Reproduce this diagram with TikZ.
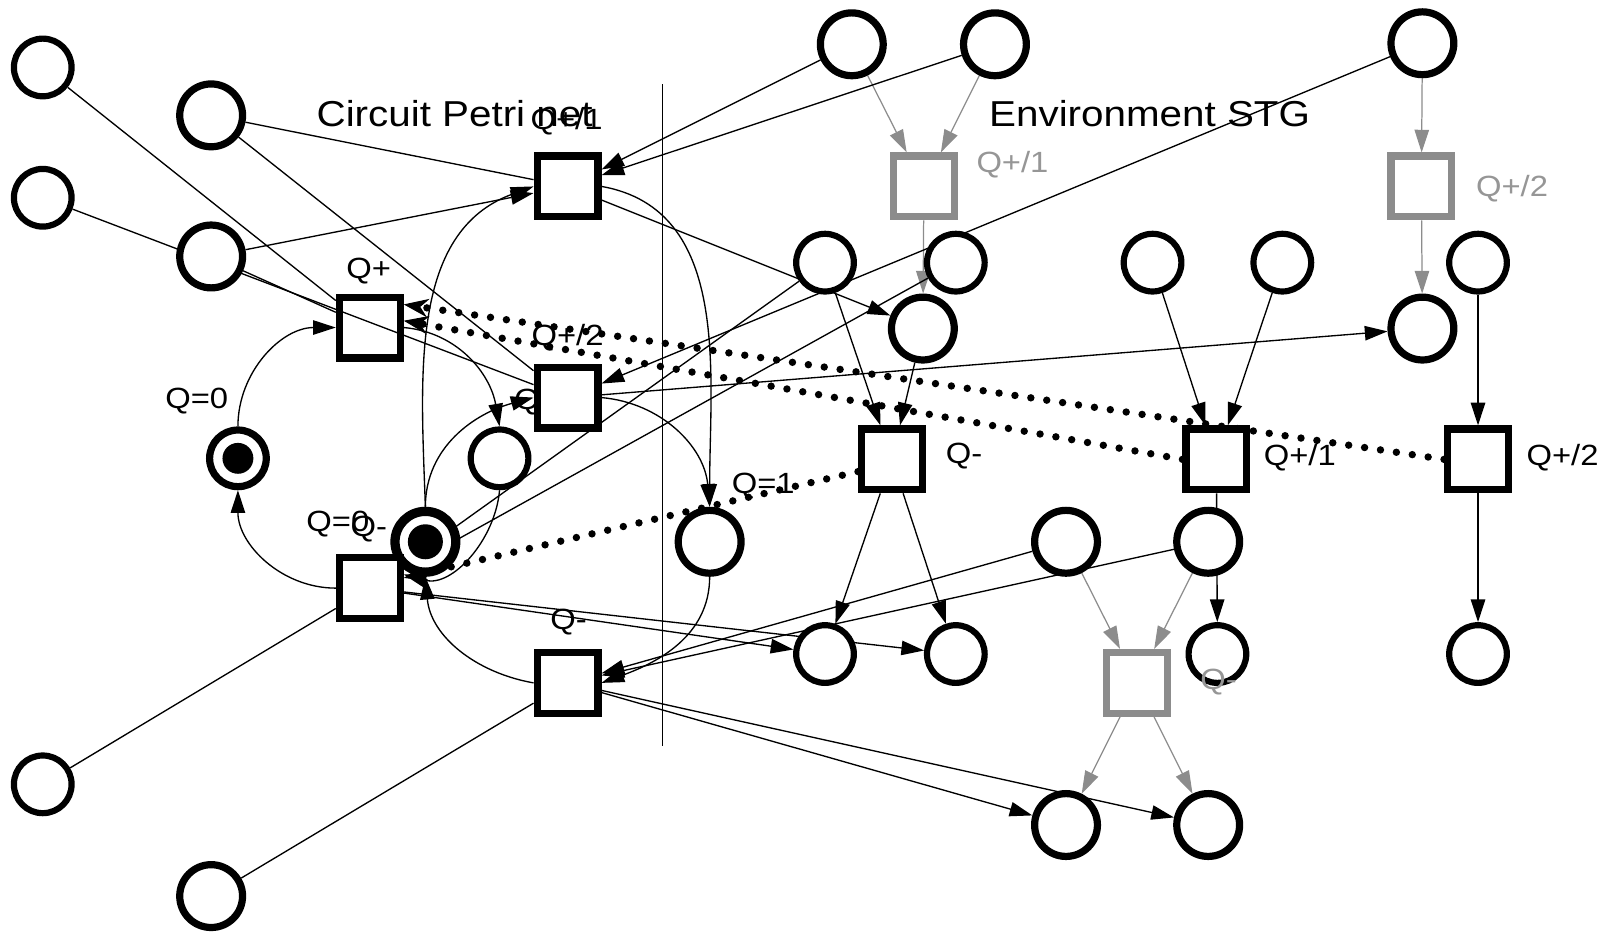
\documentclass[tikz,border=0pt]{standalone}
\usepackage{fontspec}
\setmainfont[FakeStretch=1.12]{Liberation Sans}
\usetikzlibrary{arrows.meta,backgrounds,calc}
\definecolor{gc}{RGB}{140,140,140}
\definecolor{gtext}{RGB}{150,150,150}
\begin{document}
\begin{tikzpicture}[x=0.5pt,y=0.5pt,
  ps/.style={circle,draw,fill=white,line width=3pt,minimum size=28pt,inner sep=0pt},
  pb/.style={circle,draw,fill=white,line width=3.5pt,minimum size=30.5pt,inner sep=0pt},
  tr/.style={rectangle,draw,fill=white,line width=3.5pt,minimum size=29.5pt,inner sep=0pt},
  gtr/.style={tr,draw=gc},
  lab/.style={font=\fontsize{14.2}{16}\selectfont,inner sep=0pt,anchor=base},
  glab/.style={lab,text=gtext},
  ttl/.style={font=\fontsize{17.5}{20}\selectfont,inner sep=0pt,anchor=base west},
  edge/.style={line width=0.65pt,draw=black},
  arr/.style={edge,-{Triangle[length=11pt,width=7pt]}},
  gedge/.style={line width=0.6pt,draw=gc,-{Triangle[length=11pt,width=7pt]}},
  dotarr/.style={line width=3.6pt,line cap=round,dash pattern=on 0pt off 7.8pt,-{Stealth[length=12pt,width=9pt,line width=0.5pt]}},
  sepline/.style={line width=0.7pt}
]
\useasboundingbox (0,0) rectangle (1568,-904);

% ---------- places ----------
\node[ps] (pL1) at (41.5,-65.5) {};
\node[pb] (pL2) at (205,-112) {};
\node[ps] (pL3) at (41.5,-192) {};
\node[pb] (pL4) at (205,-249) {};
\node[ps] (pL5) at (41.5,-761.5) {};
\node[pb] (pL6) at (205,-870) {};
\node[ps,line width=3.5pt,minimum size=27.5pt] (pQ0) at (231,-445) {};
\fill (pQ0) circle (7.5pt);
\node[ps] (pmid) at (485,-445) {};
\node[pb,line width=4.5pt,minimum size=29.5pt] (pQ0b) at (413,-526) {};
\fill (pQ0b) circle (8.5pt);
\node[pb] (pQ1) at (689,-526) {};

\node[pb] (e1) at (827,-43) {};
\node[pb] (e2) at (966,-43) {};
\node[pb] (e3) at (1381,-42) {};
\node[ps] (e4) at (801,-255) {};
\node[ps] (e5) at (928,-255) {};
\node[pb] (e6) at (896,-319) {};
\node[pb] (e7) at (1381,-319) {};
\node[ps] (e8) at (1119,-255) {};
\node[ps] (e9) at (1245,-255) {};
\node[ps] (e12) at (1435,-255) {};
\node[pb] (e10) at (1035,-526) {};
\node[pb] (e11) at (1173,-526) {};
\node[ps] (e13) at (801,-635) {};
\node[ps] (e14) at (928,-635) {};
\node[ps] (e15) at (1182,-635) {};
\node[ps] (e16) at (1435,-635) {};
\node[pb] (e17) at (1035,-801) {};
\node[pb] (e18) at (1173,-801) {};

% ---------- transitions ----------
\node[tr] (tQp1) at (551,-181) {};
\node[tr,fill=none] (tQp) at (359,-318) {};
\node[tr] (tQp2) at (551,-386) {};
\node[tr] (tQm) at (359,-571) {};
\node[tr] (tQm2) at (551,-663) {};
\node[tr] (tEm) at (866,-446) {};
\node[tr] (tE1) at (1181,-446) {};
\node[tr] (tE2) at (1435,-446) {};
\node[gtr] (gQp1) at (897,-181) {};
\node[gtr] (gQp2) at (1380,-181) {};
\node[gtr] (gQm) at (1104,-663) {};

% ---------- texts ----------
\node[ttl] (tcirc) at (307,-123) {Circuit Petri net};
\node[ttl] (tenv) at (960,-123) {Environment STG};
\node[lab] (l1) at (550,-126) {Q+/1};
\node[lab] (l2) at (358,-270) {Q+};
\node[lab] (l3) at (551,-335) {Q+/2};
\node[lab] (l4) at (191,-397) {Q=0};
\node[lab] (l5) at (328,-516) {Q=0};
\node[lab] (l6) at (358,-521) {Q-};
\node[lab] (l7) at (552,-611) {Q-};
\node[lab] (l8) at (741,-479) {Q=1};
\node[lab] (l9) at (936,-450) {Q-};
\node[lab] (l10) at (1262,-452) {Q+/1};
\node[lab] (l11) at (1517,-452) {Q+/2};
\node[glab] (l12) at (983,-167) {Q+/1};
\node[glab] (l13) at (1468,-191) {Q+/2};
\node[glab] (l14) at (1183,-669) {Q-};

\begin{pgfonlayer}{background}
\draw[sepline] (643,-82) -- (643,-724);
\node[lab,anchor=base west] (l15) at (499,-398) {Q};
% gray environment arcs
\draw[gedge] (e1) -- (gQp1);
\draw[gedge] (e2) -- (gQp1);
\draw[gedge] (gQp1) -- (e6);
\draw[gedge] (e3) -- (gQp2);
\draw[gedge] (gQp2) -- (e7);
\draw[gedge] (e10) -- (gQm);
\draw[gedge] (e11) -- (gQm);
\draw[gedge] (gQm) -- (e17);
\draw[gedge] (gQm) -- (e18);
% black environment arcs
\draw[arr] (e4) -- (tEm);
\draw[arr] (e6) -- (tEm);
\draw[arr] (e8) -- (tE1);
\draw[arr] (e9) -- (tE1);
\draw[arr] (e12) -- (tE2);
\draw[arr] (tEm) -- (e13);
\draw[arr] (tEm) -- (e14);
\draw[arr] (tE1) -- (e15);
\draw[arr] (tE2) -- (e16);
% cross arcs
\draw[arr] (e1) -- (tQp1);
\draw[arr] (e2) -- (tQp1);
\draw[arr] (e3) -- (tQp2);
\draw[arr] (tQp1) -- (e6);
\draw[arr] (tQp2) -- (e7);
\draw[arr] (e4) -- (tQm);
\draw[arr] (e5) -- (tQm);
\draw[arr] (tQm) -- (e13);
\draw[arr] (tQm) -- (e14);
\draw[arr] (e10) -- (tQm2);
\draw[arr] (e11) -- (tQm2);
\draw[arr] (tQm2) -- (e17);
\draw[arr] (tQm2) -- (e18);
% left places
\draw[edge] (pL1) -- (tQp);
\draw[edge] (pL2) -- (tQp1);
\draw[arr] (pL4) -- (tQp1);
\draw[edge] (pL2) -- (tQp2);
\draw[edge] (pL3) -- (tQp2);
\draw[edge] (pL4) -- (tQp);
\draw[edge] (pL5) -- (tQm);
\draw[edge] (pL6) -- (tQm2);
% curved arcs
\draw[arr] (pQ0.north) to[out=90,in=180] (tQp.west);
\draw[arr] (tQm.west) to[out=180,in=-90] (pQ0.south);
\draw[arr] (tQp.east) to[out=-5,in=100] (pmid.north);
\draw[arr] (pQ0b.north) to[out=92,in=200] (tQp1.west);
\draw[arr] (pQ0b.north) to[out=90,in=195] (tQp2.west);
\draw[arr] (pmid.south) to[out=-95,in=-15] ($(tQm.north east)!0.3!(tQm.south east)$);
\draw[arr] (tQm2.west) to[out=170,in=-85] (pQ0b.south);
\draw[arr] (tQp1.east) to[out=-10,in=90] (pQ1.north);
\draw[arr] (tQp2.east) to[out=-5,in=95] (pQ1.north);
\draw[arr] (pQ1.south) to[out=-90,in=20] (tQm2.east);
% dotted links
\draw[dotarr] (tE2.west) -- ($(tQp.north east)!0.16!(tQp.south east)$);
\draw[dotarr] (tE1.west) -- ($(tQp.north east)!0.4!(tQp.south east)$);
\draw[dotarr] ($(tEm.north west)!0.68!(tEm.south west)$) -- ($(tQm.north east)!0.35!(tQm.south east)$);
\end{pgfonlayer}
\end{tikzpicture}
\end{document}
